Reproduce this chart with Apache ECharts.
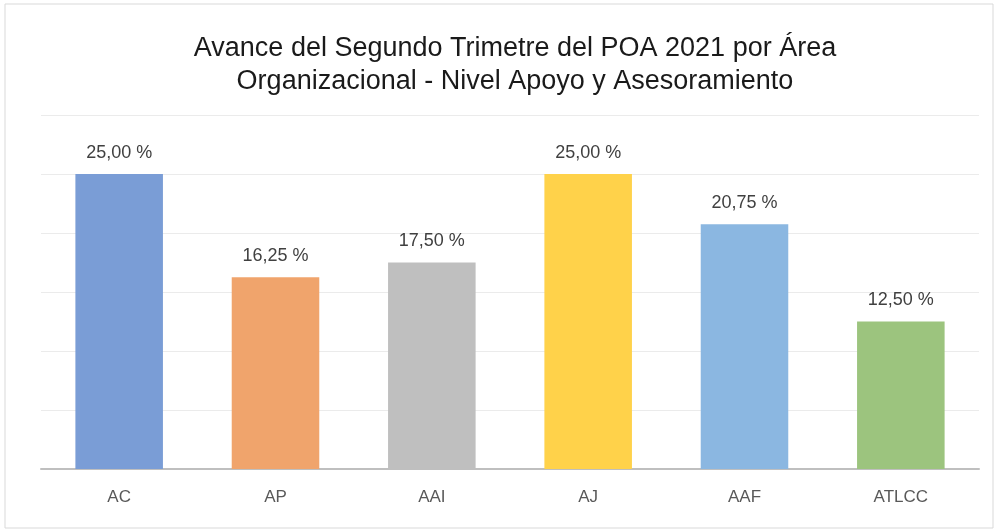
<!DOCTYPE html>
<html>
<head>
<meta charset="utf-8">
<script src="https://cdn.jsdelivr.net/npm/echarts@6/dist/echarts.min.js"></script>
<style>
  html, body { margin: 0; padding: 0; background: #fff; }
  #chart { width: 1000px; height: 531px; }
</style>
</head>
<body>
<div id="chart"></div>
<script>
// data
var categories = ["AC", "AP", "AAI", "AJ", "AAF", "ATLCC"];
var values = [25.0, 16.25, 17.5, 25.0, 20.75, 12.5];
var barColors = ["#7A9DD6", "#F0A46C", "#BFBFBF", "#FFD24A", "#8BB7E1", "#9CC47E"];

var myChart = echarts.init(document.getElementById("chart"));

var option = {
  backgroundColor: "#fff",
  animation: false,
  title: {
    text: "Avance del Segundo Trimetre del POA 2021 por Área\nOrganizacional - Nivel Apoyo y Asesoramiento",
    left: 510,
    textAlign: "center",
    top: 27,
    textStyle: {
      fontFamily: "Liberation Sans",
      fontWeight: "normal",
      fontSize: 27,
      lineHeight: 33,
      color: "#1a1a1a",
    },
  },
  graphic: [
    {
      type: "rect",
      shape: { x: 5, y: 4, width: 988, height: 524 },
      style: { fill: "none", stroke: "#D9D9D9", lineWidth: 1 },
      silent: true,
    },
  ],
  grid: {
    left: 41,
    right: 21,
    top: 115,
    bottom: 62,
  },
  xAxis: {
    type: "category",
    data: categories,
    axisTick: { show: false },
    axisLine: { lineStyle: { color: "#BFBFBF", width: 2 } },
    axisLabel: {
      margin: 20,
      fontFamily: "Liberation Sans",
      fontSize: 17,
      color: "#595959",
    },
  },
  yAxis: {
    type: "value",
    min: 0,
    max: 30,
    interval: 5,
    axisLabel: { show: false },
    axisLine: { show: false },
    axisTick: { show: false },
    splitLine: { lineStyle: { color: "#EBEBEB", width: 1 } },
  },
  series: [
    {
      type: "bar",
      barWidth: "56%",
      data: values.map(function (v, i) {
        return { value: v, itemStyle: { color: barColors[i] } };
      }),
      label: {
        show: true,
        position: "top",
        distance: 12,
        fontFamily: "Liberation Sans",
        fontSize: 18,
        color: "#404040",
        formatter: function (d) {
          return d.value.toFixed(2).replace(".", ",") + " %";
        },
      },
    },
  ],
};

myChart.setOption(option, true);
</script>
</body>
</html>
